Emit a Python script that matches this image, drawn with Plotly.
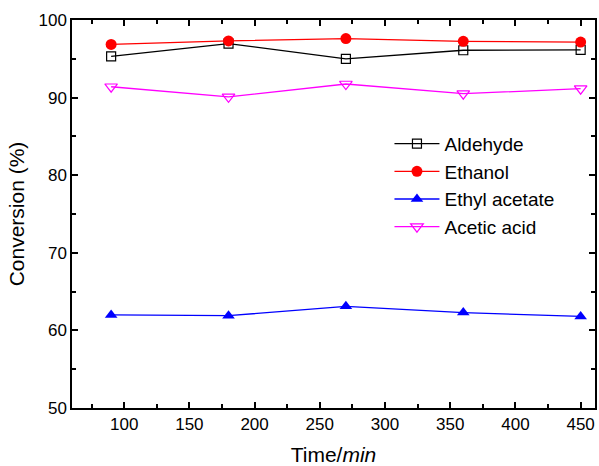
import plotly.graph_objects as go

time = [90, 180, 270, 360, 450]
aldehyde = [95.3, 96.95, 95.0, 96.1, 96.15]
ethanol = [96.85, 97.3, 97.6, 97.25, 97.15]
ethyl_acetate = [62.0, 61.9, 63.1, 62.3, 61.8]
acetic_acid = [91.4, 90.1, 91.75, 90.5, 91.15]

FONT = "Liberation Sans, Arial"

fig = go.Figure()
fig.add_trace(go.Scatter(x=time, y=aldehyde, name="Aldehyde", mode="lines+markers",
                         line=dict(color="black", width=1.3),
                         marker=dict(symbol="square-open", size=9, color="black", line=dict(width=1.2))))
fig.add_trace(go.Scatter(x=time, y=ethanol, name="Ethanol", mode="lines+markers",
                         line=dict(color="red", width=1.3),
                         marker=dict(symbol="circle", size=11, color="red")))
fig.add_trace(go.Scatter(x=time, y=ethyl_acetate, name="Ethyl acetate", mode="lines+markers",
                         line=dict(color="blue", width=1.3),
                         marker=dict(symbol="triangle-up", size=11, color="blue")))
fig.add_trace(go.Scatter(x=time, y=acetic_acid, name="Acetic acid", mode="lines+markers",
                         line=dict(color="magenta", width=1.3),
                         marker=dict(symbol="triangle-down-open", size=11, color="magenta", line=dict(width=1.2))))

axis_common = dict(showline=True, linecolor="black", linewidth=1.5, mirror="ticks",
                   ticks="inside", ticklen=6, tickwidth=1.5, tickcolor="black",
                   showgrid=False, zeroline=False,
                   tickfont=dict(family=FONT, size=17, color="black"))

fig.update_xaxes(range=[60, 461], dtick=50, tick0=0,
                 minor=dict(ticks="inside", ticklen=4, tickwidth=1.5, tickcolor="black", dtick=25),
                 title=dict(text="Time/<i>min</i>", font=dict(family=FONT, size=21, color="black"), standoff=14),
                 **axis_common)
fig.update_yaxes(range=[50, 100], dtick=10,
                 minor=dict(ticks="inside", ticklen=4, tickwidth=1.5, tickcolor="black", dtick=5),
                 title=dict(text="Conversion (%)", font=dict(family=FONT, size=21, color="black"), standoff=8),
                 **axis_common)

fig.update_layout(width=599, height=466, margin=dict(l=72, r=2, t=20, b=58),
                  plot_bgcolor="white", paper_bgcolor="white",
                  font=dict(family=FONT, color="black"),
                  legend=dict(x=0.607, y=0.73, xanchor="left", yanchor="top",
                              font=dict(family=FONT, size=19, color="black"),
                              bgcolor="rgba(0,0,0,0)", itemwidth=45, tracegroupgap=0))

fig.write_html("out.html")
